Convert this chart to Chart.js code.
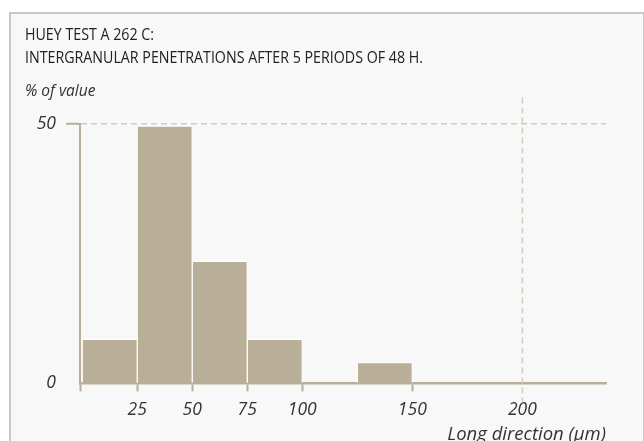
<!DOCTYPE html>
<html>
<head>
<meta charset="utf-8">
<script src="https://cdn.jsdelivr.net/npm/chart.js@4.4.1/dist/chart.umd.min.js"></script>
<style>
  html, body { margin: 0; padding: 0; background: #fff; }
  #frame {
    position: absolute; left: 9px; top: 12px; width: 632px; height: 440px;
    background: #f8f8f8; border: 2px solid #c9c9c9; border-bottom: none;
  }
  #wrap { position: absolute; left: 0; top: 0; width: 644px; height: 441px; }
</style>
</head>
<body>
<div id="frame"></div>
<div id="wrap"><canvas id="histo" width="644" height="441"></canvas></div>
<script>
// bins of 25 um (start of each bin) and % of values in it
var binStart = [0, 25, 50, 75, 100, 125]
var binWidth = 25
var percent = [8.5, 49.5, 23.5, 8.5, 0, 4]
var xTicks = [25, 50, 75, 100, 150, 200]
var yTicks = [0, 50]
var titleLines = ['HUEY TEST A 262 C:', 'INTERGRANULAR PENETRATIONS AFTER 5 PERIODS OF 48 H.']

var tan = '#b9ae97'
var dashTan = '#d5cdbb'
var italic = "'Open Sans', sans-serif"
var tickFont = { family: italic, size: 17.5, style: 'italic', lineHeight: 1 }

var points = []
binStart.forEach(function (s, i) {
  points.push({ x: s + binWidth / 2, y: percent[i] })
})

// dashed limit line at 200 um
var limitLine = {
  id: 'limitLine',
  beforeDatasetsDraw: function (chart) {
    var ctx = chart.ctx
    var x = chart.scales.x.getPixelForValue(200)
    var area = chart.chartArea
    ctx.save()
    ctx.strokeStyle = dashTan
    ctx.lineWidth = 1.5
    ctx.setLineDash([6, 4])
    ctx.beginPath()
    ctx.moveTo(x, area.top - 26)
    ctx.lineTo(x, area.bottom + 18)
    ctx.stroke()
    ctx.restore()
  }
}

// condensed two line heading (the original uses a condensed face)
var heading = {
  id: 'heading',
  afterDraw: function (chart) {
    var ctx = chart.ctx
    ctx.save()
    ctx.font = "17px 'Open Sans', sans-serif"
    ctx.fillStyle = '#222'
    ctx.textBaseline = 'alphabetic'
    var squeeze = 398 / ctx.measureText(titleLines[1]).width
    titleLines.forEach(function (t, i) {
      ctx.save()
      ctx.translate(25, 40 + i * 23)
      ctx.scale(squeeze, 1)
      ctx.fillText(t, 0, 0)
      ctx.restore()
    })
    ctx.restore()
  }
}

new Chart(document.getElementById('histo'), {
  type: 'bar',
  data: {
    datasets: [{
      data: points,
      backgroundColor: tan,
      borderColor: '#ffffff',
      borderWidth: 1,
      borderSkipped: 'start',
      barPercentage: 1,
      categoryPercentage: 1
    }]
  },
  plugins: [limitLine, heading],
  options: {
    responsive: false,
    animation: false,
    devicePixelRatio: 1,
    layout: { padding: { left: 25, right: 38, top: 74, bottom: 0 } },
    plugins: {
      legend: { display: false },
      tooltip: { enabled: false },
      subtitle: {
        display: true,
        align: 'start',
        text: '% of value',
        color: '#333',
        font: { family: italic, size: 15.5, style: 'italic' },
        padding: { top: 8, bottom: 23 }
      }
    },
    scales: {
      x: {
        type: 'linear',
        min: -1,
        max: 238,
        offset: false,
        afterBuildTicks: function (scale) {
          scale.ticks = [{ value: -1 }].concat(xTicks.map(function (v) { return { value: v } }))
        },
        ticks: {
          autoSkip: false,
          maxRotation: 0,
          color: '#333',
          font: tickFont,
          padding: 10,
          callback: function (v) { return v < 0 ? '' : v }
        },
        grid: {
          drawOnChartArea: false,
          offset: false,
          tickLength: 8,
          tickWidth: 2,
          tickColor: function (c) { return c.tick && c.tick.value === 200 ? 'rgba(0,0,0,0)' : tan }
        },
        border: { color: tan, width: 2.5 },
        title: {
          display: true,
          align: 'end',
          text: 'Long direction (µm)',
          color: '#333',
          font: { family: italic, size: 18.5, style: 'italic', lineHeight: 0.6 },
          padding: { top: 0, bottom: 1 }
        }
      },
      y: {
        min: 0,
        max: 50,
        afterBuildTicks: function (scale) {
          scale.ticks = yTicks.map(function (v) { return { value: v } })
        },
        afterFit: function (scale) { scale.width = 55 },
        ticks: { color: '#333', font: tickFont, padding: 10 },
        grid: {
          tickLength: 14,
          tickWidth: 2,
          lineWidth: 1.5,
          color: function (c) { return c.tick && c.tick.value === 50 ? dashTan : 'rgba(0,0,0,0)' },
          tickColor: function (c) { return c.tick && c.tick.value === 50 ? tan : 'rgba(0,0,0,0)' },
          tickBorderDash: []
        },
        border: { color: tan, width: 2, dash: [6, 4] }
      }
    }
  }
});
</script>
</body>
</html>
